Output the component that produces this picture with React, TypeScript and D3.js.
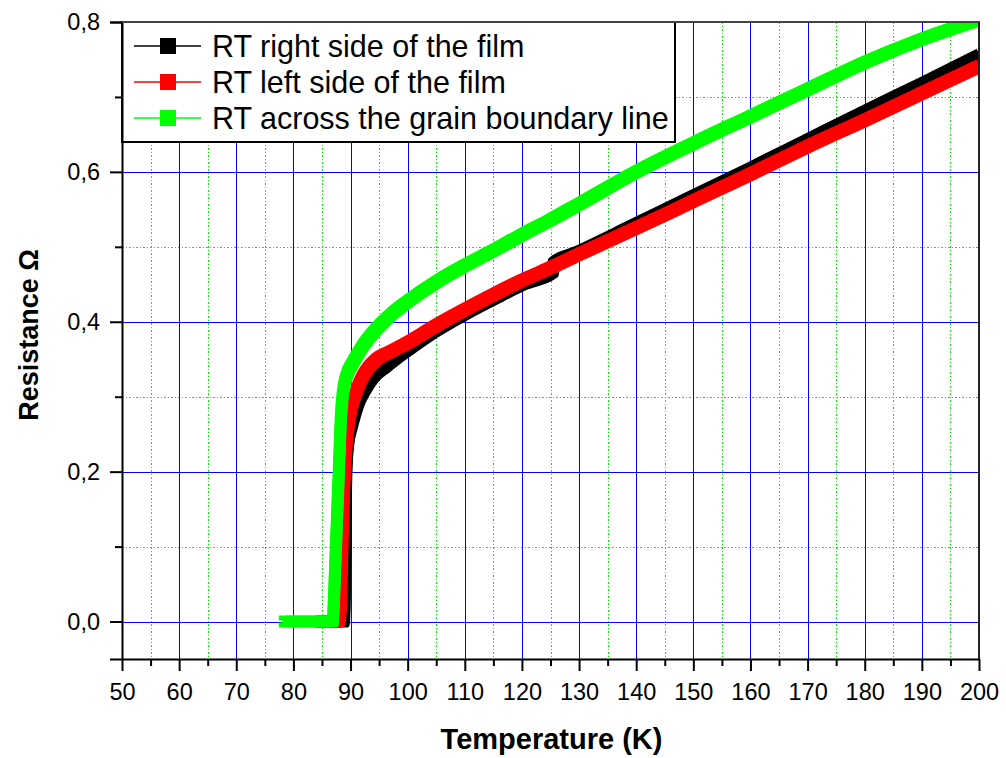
import React, { useEffect, useRef } from "react";
import * as d3 from "d3";

const WIDTH = 1006;
const HEIGHT = 758;
const MARGIN = { left: 122, right: 27, top: 22, bottom: 99 };

// Axis ranges and ticks
const xDomain: [number, number] = [50, 200];
const yDomain: [number, number] = [-0.05, 0.8];
const xMajorTicks = [50, 60, 70, 80, 90, 100, 110, 120, 130, 140, 150, 160, 170, 180, 190, 200];
const xMinorTicks = [55, 65, 75, 85, 95, 105, 115, 125, 135, 145, 155, 165, 175, 185, 195];
const yMajorTicks = [0, 0.2, 0.4, 0.6, 0.8];
const yMinorTicks = [0.1, 0.3, 0.5, 0.7];

// RT right side of the film
const rightTemp = [85, 88.8, 89.0, 89.1, 89.25, 89.6, 90.2, 90.8, 91.5, 92.5, 94, 96, 98, 100, 105, 110, 115, 120, 125.4, 125.6, 130, 140, 150, 160, 170, 180, 190, 200];
const rightRes = [0, 0, 0.04, 0.12, 0.2, 0.24, 0.262, 0.279, 0.295, 0.31, 0.327, 0.34, 0.352, 0.363, 0.389, 0.411, 0.431, 0.45, 0.467, 0.478, 0.493, 0.53, 0.567, 0.604, 0.642, 0.68, 0.717, 0.755];

// RT left side of the film
const leftTemp = [85, 88.0, 88.3, 88.5, 88.7, 89.0, 89.4, 90.0, 90.8, 91.7, 92.7, 94.6, 97, 100, 105, 110, 115, 120, 125, 130, 140, 150, 160, 170, 180, 190, 200];
const leftRes = [0, 0, 0.02, 0.08, 0.14, 0.2, 0.245, 0.279, 0.302, 0.32, 0.334, 0.35, 0.36, 0.372, 0.395, 0.416, 0.436, 0.455, 0.472, 0.49, 0.525, 0.561, 0.597, 0.634, 0.669, 0.705, 0.741];

// RT across the grain boundary line
const grainTemp = [78.5, 82, 86.9, 87.1, 87.3, 87.5, 87.7, 87.9, 88.1, 88.3, 88.6, 89.2, 90.4, 92, 94.6, 97, 100, 105, 110, 115, 120, 125, 130, 140, 150, 160, 170, 180, 190, 200];
const grainRes = [0, 0, 0, 0.03, 0.07, 0.11, 0.15, 0.19, 0.23, 0.27, 0.3, 0.325, 0.345, 0.366, 0.391, 0.409, 0.427, 0.453, 0.475, 0.495, 0.516, 0.536, 0.557, 0.6, 0.638, 0.674, 0.71, 0.746, 0.777, 0.803];

const seriesNames = [
  "RT right side of the film",
  "RT left side of the film",
  "RT across the grain boundary line",
];
const seriesColors = ["#000000", "#ff0000", "#00ff00"];
const seriesTemps = [rightTemp, leftTemp, grainTemp];
const seriesRes = [rightRes, leftRes, grainRes];

const xLabel = "Temperature (K)";
const yLabel = "Resistance Ω";

const FONT = "'Liberation Sans', Arial, Helvetica, sans-serif";

export default function App() {
  const ref = useRef<SVGSVGElement | null>(null);

  useEffect(() => {
    const svg = d3.select(ref.current);
    svg.selectAll("*").remove();

    const x0 = MARGIN.left;
    const x1 = WIDTH - MARGIN.right;
    const y0 = HEIGHT - MARGIN.bottom;
    const y1 = MARGIN.top;

    const x = d3.scaleLinear().domain(xDomain).range([x0, x1]);
    const y = d3.scaleLinear().domain(yDomain).range([y0, y1]);

    svg.append("rect").attr("width", WIDTH).attr("height", HEIGHT).attr("fill", "#ffffff");

    // grid: dotted green minor lines, solid blue major lines
    const grid = svg.append("g").attr("shape-rendering", "crispEdges");
    grid.selectAll("line.xmin").data(xMinorTicks).enter().append("line")
      .attr("x1", (d) => Math.round(x(d)) + 0.5).attr("x2", (d) => Math.round(x(d)) + 0.5)
      .attr("y1", y1).attr("y2", y0)
      .attr("stroke", "#00f000").attr("stroke-width", 1).attr("stroke-dasharray", "1.5,2");
    grid.selectAll("line.ymin").data(yMinorTicks).enter().append("line")
      .attr("x1", x0).attr("x2", x1)
      .attr("y1", (d) => Math.round(y(d)) + 0.5).attr("y2", (d) => Math.round(y(d)) + 0.5)
      .attr("stroke", "#00f000").attr("stroke-width", 1).attr("stroke-dasharray", "1.5,2");
    grid.selectAll("line.xmaj").data(xMajorTicks.slice(1, -1)).enter().append("line")
      .attr("x1", (d) => Math.round(x(d)) + 0.5).attr("x2", (d) => Math.round(x(d)) + 0.5)
      .attr("y1", y1).attr("y2", y0)
      .attr("stroke", "#0000ff").attr("stroke-width", 1);
    grid.selectAll("line.ymaj").data(yMajorTicks.slice(0, -1)).enter().append("line")
      .attr("x1", x0).attr("x2", x1)
      .attr("y1", (d) => Math.round(y(d)) + 0.5).attr("y2", (d) => Math.round(y(d)) + 0.5)
      .attr("stroke", "#0000ff").attr("stroke-width", 1);

    // clip for the data
    svg.append("defs").append("clipPath").attr("id", "plot-clip")
      .append("rect").attr("x", x0).attr("y", y1).attr("width", x1 - x0).attr("height", y0 - y1);

    // Each series is drawn with a square-ish 12px brush (overlapping square symbols)
    const line = d3.line<[number, number]>()
      .x((d) => x(d[0]))
      .y((d) => y(d[1]))
      .curve(d3.curveMonotoneX);
    const brushOffsets = [[0, 0], [-3.5, -3.5], [3.5, -3.5], [-3.5, 3.5], [3.5, 3.5]];
    const dataLayer = svg.append("g").attr("clip-path", "url(#plot-clip)");
    seriesTemps.forEach((temps, i) => {
      const pts: [number, number][] = temps.map((t, k) => [t, seriesRes[i][k]]);
      const g = dataLayer.append("g");
      brushOffsets.forEach(([dx, dy]) => {
        g.append("path")
          .attr("d", line(pts) as string)
          .attr("transform", `translate(${dx},${dy})`)
          .attr("fill", "none")
          .attr("stroke", seriesColors[i])
          .attr("stroke-width", 5)
          .attr("stroke-linejoin", "round")
          .attr("stroke-linecap", "square");
      });
    });

    // legend
    const legend = svg.append("g");
    legend.append("rect")
      .attr("x", x0).attr("y", y1).attr("width", 675 - x0).attr("height", 142 - y1)
      .attr("fill", "#ffffff").attr("stroke", "#000000").attr("stroke-width", 2);
    seriesNames.forEach((name, i) => {
      const cy = 46 + i * 36;
      legend.append("line").attr("x1", 134).attr("x2", 201).attr("y1", cy).attr("y2", cy)
        .attr("stroke", seriesColors[i]).attr("stroke-width", 1.5);
      legend.append("rect").attr("x", 168 - 8).attr("y", cy - 8).attr("width", 16).attr("height", 16)
        .attr("fill", seriesColors[i]);
      legend.append("text").attr("x", 212).attr("y", cy).attr("dy", "0.35em")
        .attr("font-family", FONT).attr("font-size", 30.5).attr("fill", "#000")
        .text(name);
    });

    const fmt = (d: d3.NumberValue) => d3.format(".1f")(d as number).replace(".", ",");

    // bottom axis
    const xAxis = svg.append("g").attr("transform", `translate(0,${y0})`)
      .call(d3.axisBottom(x).tickValues(xMajorTicks).tickSize(12).tickSizeOuter(0).tickPadding(12).tickFormat(d3.format("d") as any));
    svg.append("g").attr("transform", `translate(0,${y0})`)
      .call(d3.axisBottom(x).tickValues(xMinorTicks).tickSize(7).tickSizeOuter(0).tickFormat(() => ""))
      .call((g) => g.select(".domain").remove());

    // left axis
    const yAxis = svg.append("g").attr("transform", `translate(${x0},0)`)
      .call(d3.axisLeft(y).tickValues(yMajorTicks).tickSize(12).tickSizeOuter(12).tickPadding(10).tickFormat(fmt));
    svg.append("g").attr("transform", `translate(${x0},0)`)
      .call(d3.axisLeft(y).tickValues(yMinorTicks).tickSize(7).tickSizeOuter(0).tickFormat(() => ""))
      .call((g) => g.select(".domain").remove());

    svg.selectAll(".tick line, .domain").attr("stroke", "#000").attr("stroke-width", 2);
    [xAxis, yAxis].forEach((a) =>
      a.selectAll("text").attr("font-family", FONT).attr("font-size", 23.5).attr("fill", "#000")
    );

    // top and right frame
    svg.append("line").attr("x1", x0).attr("x2", x1 + 1).attr("y1", y1).attr("y2", y1)
      .attr("stroke", "#444").attr("stroke-width", 2);
    svg.append("line").attr("x1", x1).attr("x2", x1).attr("y1", y1).attr("y2", y0)
      .attr("stroke", "#222").attr("stroke-width", 2);

    // axis titles
    svg.append("text").attr("x", (x0 + x1) / 2 + 1).attr("y", 749)
      .attr("text-anchor", "middle").attr("font-family", FONT).attr("font-weight", "bold")
      .attr("font-size", 29).text(xLabel);
    svg.append("text").attr("transform", `translate(38,335) rotate(-90)`)
      .attr("text-anchor", "middle").attr("font-family", FONT).attr("font-weight", "bold")
      .attr("font-size", 27).text(yLabel);
  }, []);

  return (
    <svg
      ref={ref}
      width={WIDTH}
      height={HEIGHT}
      style={{ position: "absolute", left: 0, top: 0, display: "block" }}
    />
  );
}
